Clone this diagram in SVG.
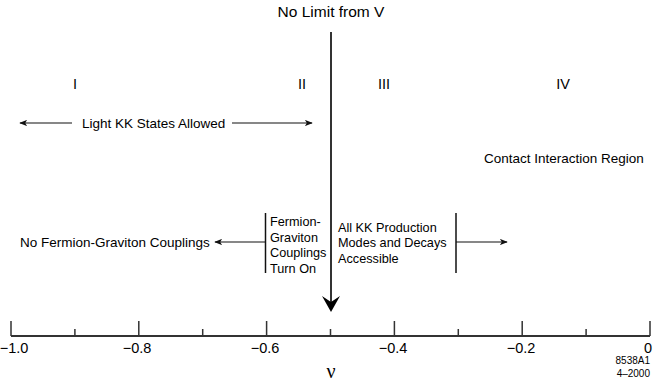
<svg xmlns="http://www.w3.org/2000/svg" width="653" height="382" viewBox="0 0 653 382">
<style>
text{font-family:"Liberation Sans",Arial,sans-serif;font-size:13.5px;fill:#000}
.mid{text-anchor:middle}
.box{font-size:12.7px}
.num{font-size:14.5px}
.rom{font-size:14.5px}
.small{font-size:10px}
.ax{stroke:#333;stroke-width:2;fill:none}
.tk{stroke:#333;stroke-width:1.5;fill:none}
.ln{stroke:#111;stroke-width:1.2;fill:none}
.bar{stroke:#111;stroke-width:1.5;fill:none}
</style>
<defs>
<marker id="ah" viewBox="0 0 10 8" refX="9" refY="4" markerWidth="8" markerHeight="6.4" markerUnits="userSpaceOnUse" orient="auto">
<path d="M0,0 L10,4 L0,8 L2.5,4 Z" fill="#111"/>
</marker>
</defs>
<g id="title"><text class="mid" x="331" y="17" style="font-size:15.5px">No Limit from V</text></g>
<g id="regions">
<text class="mid rom" x="75" y="89">I</text>
<text class="mid rom" x="302" y="89">II</text>
<text class="mid rom" x="384" y="89">III</text>
<text class="mid rom" x="563" y="89">IV</text>
</g>
<g id="light-kk"><text x="82" y="128">Light KK States Allowed</text></g>
<g id="contact"><text x="484" y="163">Contact Interaction Region</text></g>
<g id="no-fermion"><text x="20" y="247">No Fermion-Graviton Couplings</text></g>
<g id="fermion-on">
<text class="box" x="270" y="226">Fermion-</text>
<text class="box" x="270" y="241.5">Graviton</text>
<text class="box" x="270" y="257">Couplings</text>
<text class="box" x="270" y="272.5">Turn On</text>
</g>
<g id="all-kk">
<text class="box" x="338" y="232">All KK Production</text>
<text class="box" x="338" y="247">Modes and Decays</text>
<text class="box" x="338" y="262.5">Accessible</text>
</g>
<g id="connectors">
<line class="ln" x1="72" y1="123" x2="20" y2="123" marker-end="url(#ah)"/>
<line class="ln" x1="232" y1="123" x2="312" y2="123" marker-end="url(#ah)"/>
<line class="bar" x1="265.5" y1="213" x2="265.5" y2="273"/>
<line class="ln" x1="265.5" y1="242" x2="215" y2="242" marker-end="url(#ah)"/>
<line class="bar" x1="456" y1="213" x2="456" y2="273"/>
<line class="ln" x1="456" y1="242" x2="507" y2="242" marker-end="url(#ah)"/>
<line x1="331" y1="32" x2="331" y2="302" stroke="#333" stroke-width="2"/>
<path d="M331,312 L322,296 L331,302 L340,296 Z" fill="#000"/>
</g>
<g id="axis">
<line class="ax" x1="11" y1="336" x2="650" y2="336"/>
<path class="tk" d="M11,321V336M138.8,321V336M266.6,321V336M394.4,321V336M522.2,321V336M650,321V336M74.9,329V336M202.7,329V336M330.5,329V336M458.3,329V336M586.1,329V336"/>
<text class="mid num" x="14" y="353">−1.0</text>
<text class="mid num" x="137" y="353">−0.8</text>
<text class="mid num" x="265" y="353">−0.6</text>
<text class="mid num" x="393" y="353">−0.4</text>
<text class="mid num" x="521" y="353">−0.2</text>
<text class="mid num" x="648" y="353">0</text>
<text class="mid" x="331" y="378" style="font-family:'Liberation Serif',serif;font-size:20px">ν</text>
<text class="small" x="650" y="364" text-anchor="end">8538A1</text>
<text class="small" x="650" y="377" text-anchor="end">4–2000</text>
</g>
</svg>
